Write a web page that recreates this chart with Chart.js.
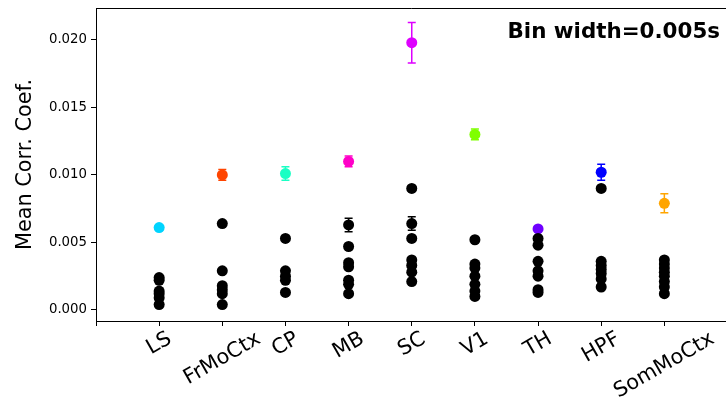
<!DOCTYPE html>
<html>
<head>
<meta charset="utf-8">
<script src="https://cdn.jsdelivr.net/npm/chart.js@4/dist/chart.umd.min.js"></script>
<style>
    html, body { margin: 0; padding: 0; background: #fff; overflow: hidden; }
    #wrap { width: 726px; height: 401px; overflow: hidden; }
</style>
</head>
<body>
<div id="wrap"><canvas id="corrChart" width="733" height="401"></canvas></div>
<script>
// brain areas along x
const areas = ['LS', 'FrMoCtx', 'CP', 'MB', 'SC', 'V1', 'TH', 'HPF', 'SomMoCtx'];
// mean corr. coef. per area (coloured markers) and its error
const areaMean = [0.0061, 0.0100, 0.0101, 0.0110, 0.0198, 0.0130, 0.0060, 0.0102, 0.0079];
const areaMeanErr = [0.0002, 0.0004, 0.0005, 0.0004, 0.0015, 0.0004, 0.0001, 0.0006, 0.0007];
// black markers, one list per area
const pairValues = [
    [0.0024, 0.0022, 0.0014, 0.0012, 0.0009, 0.0004],
    [0.0064, 0.0029, 0.0018, 0.0015, 0.0012, 0.0004],
    [0.0053, 0.0029, 0.0025, 0.0022, 0.0013],
    [0.0063, 0.0047, 0.0035, 0.0032, 0.0022, 0.0019, 0.0012],
    [0.0090, 0.0064, 0.0053, 0.0037, 0.0033, 0.0028, 0.0021],
    [0.0052, 0.0034, 0.0031, 0.0025, 0.0019, 0.0014, 0.0010],
    [0.0053, 0.0048, 0.0036, 0.0029, 0.0025, 0.0015, 0.0013],
    [0.0090, 0.0036, 0.0033, 0.0030, 0.0027, 0.0023, 0.0017],
    [0.0037, 0.0034, 0.0031, 0.0028, 0.0025, 0.0021, 0.0017, 0.0012],
];
const pairErrors = [
    [0, 0, 0, 0, 0, 0],
    [0, 0, 0, 0, 0, 0],
    [0, 0, 0, 0, 0],
    [0.0005, 0, 0, 0, 0, 0, 0],
    [0.0002, 0.0005, 0, 0, 0, 0, 0],
    [0, 0, 0, 0, 0, 0, 0],
    [0, 0, 0, 0, 0, 0, 0],
    [0.0002, 0, 0, 0, 0, 0, 0],
    [0, 0, 0, 0, 0, 0, 0, 0],
];
const yTicks = [0, 0.005, 0.010, 0.015, 0.020];
const binLabel = 'Bin width=0.005s';

const areaColors = ['#00d4ff', '#ff4500', '#1affc4', '#ff00c8', '#de00ff', '#7fff00', '#6f00ff', '#0000ff', '#ffa500'];
const FONT = "'DejaVu Sans', sans-serif";

function noPadding(scale) {
    scale.paddingTop = 0;
    scale.paddingBottom = 0;
    scale.paddingLeft = 0;
    scale.paddingRight = 0;
}

const errorBars = {
    id: 'errorBars',
    beforeDatasetsDraw(chart) {
        const { ctx, scales: { x, y } } = chart;
        ctx.save();
        ctx.lineWidth = 1.5;
        chart.data.datasets.forEach(ds => {
            ds.data.forEach((p, i) => {
                if (!p.err) return;
                const px = x.getPixelForValue(p.x);
                const top = y.getPixelForValue(p.y + p.err);
                const bot = y.getPixelForValue(p.y - p.err);
                const col = Array.isArray(ds.pointBackgroundColor) ? ds.pointBackgroundColor[i] : ds.pointBackgroundColor;
                ctx.strokeStyle = col;
                ctx.beginPath();
                ctx.moveTo(px, top); ctx.lineTo(px, bot);
                ctx.moveTo(px - 4, top); ctx.lineTo(px + 4, top);
                ctx.moveTo(px - 4, bot); ctx.lineTo(px + 4, bot);
                ctx.stroke();
            });
        });
        ctx.restore();
    },
};

const decorations = {
    id: 'decorations',
    afterDraw(chart) {
        const { ctx, chartArea, scales: { x } } = chart;
        ctx.save();
        // top spine
        ctx.strokeStyle = '#000';
        ctx.lineWidth = 1;
        ctx.beginPath();
        ctx.moveTo(chartArea.left, chartArea.top + 0.5);
        ctx.lineTo(chartArea.right, chartArea.top + 0.5);
        ctx.stroke();

        // rotated area names, centred under each tick like matplotlib
        const ang = 30 * Math.PI / 180;
        ctx.font = `20.8px ${FONT}`;
        ctx.fillStyle = '#000';
        ctx.textAlign = 'center';
        ctx.textBaseline = 'middle';
        const h = 15;
        areas.forEach((name, i) => {
            const w = ctx.measureText(name).width;
            const H = w * Math.sin(ang) + h * Math.cos(ang);
            const cx = x.getPixelForValue(i + 1);
            const cy = chartArea.bottom + 10 + H / 2;
            ctx.save();
            ctx.translate(cx, cy);
            ctx.rotate(-ang);
            ctx.fillText(name, 0, 0);
            ctx.restore();
        });

        ctx.font = `bold 21.4px ${FONT}`;
        ctx.textAlign = 'right';
        ctx.textBaseline = 'alphabetic';
        ctx.fillText(binLabel, 720, 38);
        ctx.restore();
    },
};

const pairPoints = pairValues.flatMap((vals, i) =>
    vals.map((v, j) => ({ x: i + 1, y: v, err: pairErrors[i][j] })));
const meanPoints = areaMean.map((v, i) => ({ x: i + 1, y: v, err: areaMeanErr[i] }));

new Chart(document.getElementById('corrChart'), {
    type: 'scatter',
    data: {
        datasets: [
            {
                data: pairPoints,
                pointBackgroundColor: '#000',
                pointBorderWidth: 0,
                pointRadius: 5.5,
            },
            {
                data: meanPoints,
                pointBackgroundColor: areaColors,
                pointBorderWidth: 0,
                pointRadius: 5.5,
            },
        ],
    },
    options: {
        responsive: false,
        animation: false,
        devicePixelRatio: 1,
        layout: { padding: { top: 8, left: 0, right: 0, bottom: 0 } },
        plugins: {
            legend: { display: false },
            tooltip: { enabled: false },
        },
        scales: {
            x: {
                type: 'linear',
                min: 0,
                max: 10,
                afterBuildTicks(scale) {
                    scale.ticks = [0, 1, 2, 3, 4, 5, 6, 7, 8, 9].map(v => ({ value: v }));
                },
                afterFit(scale) { scale.height = 80; noPadding(scale); },
                ticks: { callback: () => '' },
                grid: { drawOnChartArea: false, drawTicks: true, tickLength: 5, color: '#000' },
                border: { color: '#000', width: 1 },
            },
            y: {
                min: -0.00082,
                max: 0.02237,
                afterBuildTicks(scale) {
                    scale.ticks = yTicks.map(v => ({ value: v }));
                },
                afterFit(scale) { scale.width = 96; noPadding(scale); },
                ticks: {
                    color: '#000',
                    padding: 4,
                    font: { family: FONT, size: 13.3 },
                    callback: v => v.toFixed(3),
                },
                grid: { drawOnChartArea: false, drawTicks: true, tickLength: 5, color: '#000' },
                border: { color: '#000', width: 1 },
                title: {
                    display: true,
                    text: 'Mean Corr. Coef.',
                    color: '#000',
                    font: { family: FONT, size: 20.8 },
                    padding: { top: 13, bottom: 0 },
                },
            },
        },
    },
    plugins: [errorBars, decorations],
});
</script>
</body>
</html>
